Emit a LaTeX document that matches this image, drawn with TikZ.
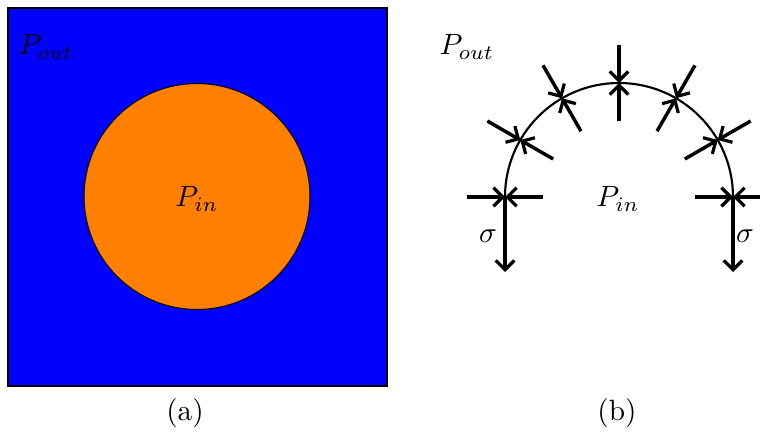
\documentclass[tikz,border=0pt]{standalone}
\usetikzlibrary{arrows.meta,calc}
\definecolor{sqblue}{RGB}{0,0,255}
\definecolor{dotorange}{RGB}{255,128,0}
\begin{document}
\begin{tikzpicture}[x=0.75pt,y=0.75pt,
  lbl/.style={scale=2.2, inner sep=0pt},
  force/.style={line width=2.6pt, -{Straight Barb[length=7pt,width=14pt,line width=2.4pt]}},
  stress/.style={line width=2.6pt, -{Straight Barb[length=7pt,width=14pt,line width=2.4pt]}}]
\useasboundingbox (0,0) rectangle (760,433);
% panel (a)
\node[draw=black, line width=0.9pt, fill=sqblue, minimum width=379*0.75pt, minimum height=378*0.75pt, inner sep=0pt] (sq) at (197.5,236) {};
\node[circle, draw=black, line width=0.8pt, fill=dotorange, minimum size=226*0.75pt, inner sep=0pt] (drop) at (197,236.5) {};
\node[lbl] (poutA) at (46,386) {$P_{out}$};
\node[lbl] (pinA) at (197,234) {$P_{in}$};
\node[lbl] (capA) at (185,20) {(a)};
% panel (b)
\coordinate (c) at (619,236);
\draw[line width=1.6pt] ($(c)+(180:114)$) arc[start angle=180, end angle=0, radius=114];
\foreach \a in {0,30,60,90,120,150,180}{
  \coordinate (on\a) at ($(c)+(\a:114)$);
  \coordinate (out\a) at ($(c)+(\a:152)$);
  \coordinate (in\a) at ($(c)+(\a:76)$);
  \draw[force] (out\a) -- (on\a);
  \draw[force] (in\a) -- (on\a);
}
\coordinate (sigL) at (505,161);
\coordinate (sigR) at (733,161);
\draw[stress] (on180) -- (sigL);
\draw[stress] (on0) -- (sigR);
\node[lbl] (sigmaL) at (488,197) {$\sigma$};
\node[lbl] (sigmaR) at (745,197) {$\sigma$};
\node[lbl] (poutB) at (467,386) {$P_{out}$};
\node[lbl] (pinB) at (618,234) {$P_{in}$};
\node[lbl] (capB) at (617,20) {(b)};
\end{tikzpicture}
\end{document}
